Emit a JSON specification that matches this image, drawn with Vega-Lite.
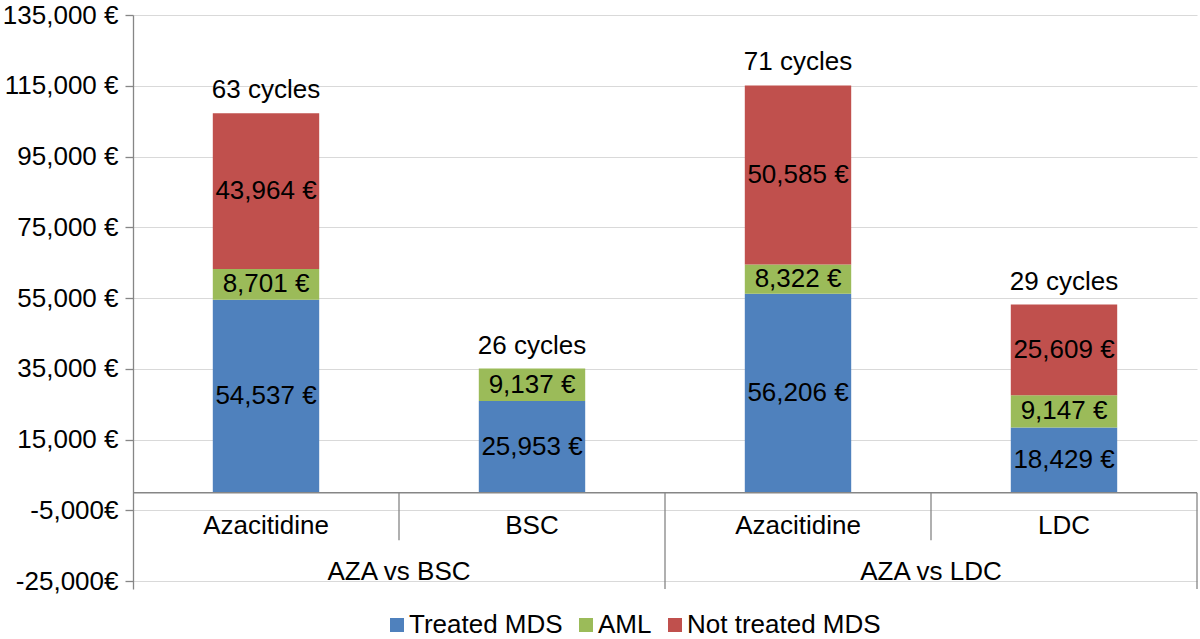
{
  "$schema": "https://vega.github.io/schema/vega-lite/v6.json",
  "autosize": "none",
  "width": 1064,
  "height": 574,
  "padding": {"left": 133, "top": 15, "right": 3, "bottom": 50},
  "background": "white",
  "config": {
    "view": {"stroke": null},
    "font": "Liberation Sans",
    "text": {"font": "Liberation Sans", "fontSize": 26, "color": "black"}
  },
  "datasets": {
    "seg": [
      {"cat": "AZA vs BSC|Azacitidine", "series": "Treated MDS", "ord": 1, "value": 54537, "cycles": 63},
      {"cat": "AZA vs BSC|Azacitidine", "series": "AML", "ord": 2, "value": 8701, "cycles": 63},
      {"cat": "AZA vs BSC|Azacitidine", "series": "Not treated MDS", "ord": 3, "value": 43964, "cycles": 63},
      {"cat": "AZA vs BSC|BSC", "series": "Treated MDS", "ord": 1, "value": 25953, "cycles": 26},
      {"cat": "AZA vs BSC|BSC", "series": "AML", "ord": 2, "value": 9137, "cycles": 26},
      {"cat": "AZA vs LDC|Azacitidine", "series": "Treated MDS", "ord": 1, "value": 56206, "cycles": 71},
      {"cat": "AZA vs LDC|Azacitidine", "series": "AML", "ord": 2, "value": 8322, "cycles": 71},
      {"cat": "AZA vs LDC|Azacitidine", "series": "Not treated MDS", "ord": 3, "value": 50585, "cycles": 71},
      {"cat": "AZA vs LDC|LDC", "series": "Treated MDS", "ord": 1, "value": 18429, "cycles": 29},
      {"cat": "AZA vs LDC|LDC", "series": "AML", "ord": 2, "value": 9147, "cycles": 29},
      {"cat": "AZA vs LDC|LDC", "series": "Not treated MDS", "ord": 3, "value": 25609, "cycles": 29}
    ],
    "cats": [
      {"cat": "AZA vs BSC|Azacitidine", "sub": "Azacitidine", "group": "AZA vs BSC", "second": false},
      {"cat": "AZA vs BSC|BSC", "sub": "BSC", "group": "AZA vs BSC", "second": true},
      {"cat": "AZA vs LDC|Azacitidine", "sub": "Azacitidine", "group": "AZA vs LDC", "second": false},
      {"cat": "AZA vs LDC|LDC", "sub": "LDC", "group": "AZA vs LDC", "second": true}
    ]
  },
  "layer": [
    {
      "data": {"name": "seg"},
      "mark": {"type": "bar", "width": {"band": 0.4}},
      "encoding": {
        "x": {
          "field": "cat", "type": "nominal", "axis": null,
          "scale": {
            "domain": ["AZA vs BSC|Azacitidine", "AZA vs BSC|BSC", "AZA vs LDC|Azacitidine", "AZA vs LDC|LDC"],
            "paddingInner": 0, "paddingOuter": 0
          }
        },
        "y": {
          "field": "value", "type": "quantitative", "stack": "zero",
          "scale": {"domain": [-27200, 135000], "nice": false, "zero": false},
          "axis": {
            "values": [-25000, -5000, 15000, 35000, 55000, 75000, 95000, 115000, 135000],
            "labelExpr": "datum.value < 0 ? '-' + format(-datum.value, ',') + '€' : format(datum.value, ',') + ' €'",
            "title": null,
            "grid": true, "gridColor": "#D9D9D9", "gridWidth": 1,
            "domainColor": "#868686", "domainWidth": 1.3,
            "tickColor": "#868686", "tickSize": 8, "tickWidth": 1.3,
            "labelFontSize": 26, "labelFont": "Liberation Sans", "labelColor": "black",
            "labelPadding": 7
          }
        },
        "color": {
          "field": "series", "type": "nominal",
          "scale": {"domain": ["Treated MDS", "AML", "Not treated MDS"], "range": ["#4F81BD", "#9BBB59", "#C0504D"]},
          "legend": {
            "orient": "none", "legendX": 251, "legendY": 597, "direction": "horizontal", "columns": 3,
            "title": null, "symbolType": "square", "symbolSize": 196, "symbolStrokeWidth": 0,
            "labelFontSize": 26, "labelFont": "Liberation Sans", "labelColor": "black", "labelLimit": 0,
            "labelOffset": -1, "columnPadding": 10, "padding": 0
          }
        },
        "order": {"field": "ord", "type": "quantitative"}
      }
    },
    {
      "data": {"name": "seg"},
      "mark": {"type": "text", "baseline": "middle", "text": {"expr": "format(datum.value, ',') + ' €'"}},
      "encoding": {
        "x": {"field": "cat", "type": "nominal", "axis": null},
        "y": {"field": "value", "type": "quantitative", "stack": "zero", "bandPosition": 0.5},
        "detail": {"field": "series", "type": "nominal"},
        "order": {"field": "ord", "type": "quantitative"}
      }
    },
    {
      "data": {"name": "seg"},
      "transform": [{"aggregate": [{"op": "sum", "field": "value", "as": "total"}], "groupby": ["cat", "cycles"]}],
      "mark": {"type": "text", "baseline": "alphabetic", "dy": -15, "text": {"expr": "datum.cycles + ' cycles'"}},
      "encoding": {
        "x": {"field": "cat", "type": "nominal", "axis": null},
        "y": {"field": "total", "type": "quantitative"}
      }
    },
    {
      "data": {"values": [{}]},
      "mark": {"type": "rule", "color": "#868686", "strokeWidth": 1.5},
      "encoding": {"y": {"datum": 0, "type": "quantitative"}}
    },
    {
      "data": {"name": "cats"},
      "transform": [{"filter": "datum.second"}],
      "mark": {"type": "rule", "color": "#868686", "strokeWidth": 1.3},
      "encoding": {
        "x": {"field": "cat", "type": "nominal", "axis": null, "bandPosition": 0},
        "y": {"datum": 0, "type": "quantitative"},
        "y2": {"datum": -13400}
      }
    },
    {
      "data": {"name": "cats"},
      "transform": [{"filter": "datum.second"}],
      "mark": {"type": "rule", "color": "#868686", "strokeWidth": 1.3},
      "encoding": {
        "x": {"field": "cat", "type": "nominal", "axis": null, "bandPosition": 1},
        "y": {"datum": 0, "type": "quantitative"},
        "y2": {"datum": -27200}
      }
    },
    {
      "data": {"name": "cats"},
      "mark": {"type": "text", "baseline": "middle"},
      "encoding": {
        "x": {"field": "cat", "type": "nominal", "axis": null},
        "y": {"datum": -9440, "type": "quantitative"},
        "text": {"field": "sub"}
      }
    },
    {
      "data": {"name": "cats"},
      "transform": [{"filter": "datum.second"}],
      "mark": {"type": "text", "baseline": "middle"},
      "encoding": {
        "x": {"field": "cat", "type": "nominal", "axis": null, "bandPosition": 0},
        "y": {"datum": -22450, "type": "quantitative"},
        "text": {"field": "group"}
      }
    }
  ]
}
